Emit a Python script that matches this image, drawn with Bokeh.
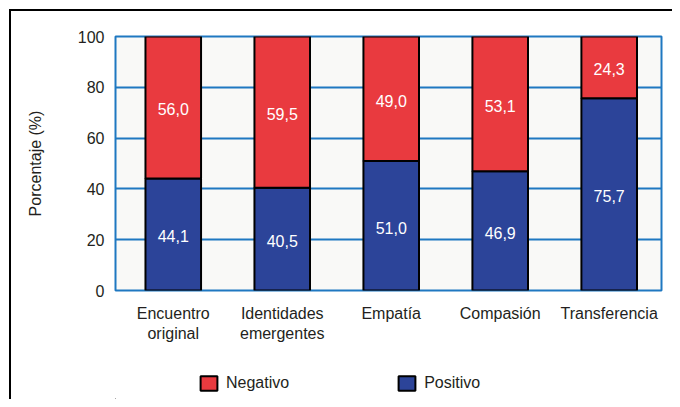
from bokeh.plotting import figure
from bokeh.layouts import column
from bokeh.models import ColumnDataSource, Range1d, FixedTicker, Legend, LegendItem, LabelSet
from bokeh.core.properties import value
from bokeh.embed import file_html
from bokeh.resources import INLINE

categories = ["Encuentro\noriginal", "Identidades\nemergentes", "Empatía", "Compasión", "Transferencia"]
positivo = [44.1, 40.5, 51.0, 46.9, 75.7]
negativo = [56.0, 59.5, 49.0, 53.1, 24.3]
y_ticks = [0, 20, 40, 60, 80, 100]
series_names = ["Negativo", "Positivo"]

RED = "#e93a3f"
BLUE = "#2c4499"
GRIDC = "#1f78c1"
TXT = "#231f20"
FONT = "Liberation Sans"

x = list(range(len(categories)))
fmt = lambda v: f"{v:.1f}".replace(".", ",")
src = ColumnDataSource(dict(
    x=x,
    pos=positivo,
    neg_top=[p_ + n for p_, n in zip(positivo, negativo)],
    pos_mid=[p_ / 2 for p_ in positivo],
    neg_mid=[p_ + n / 2 for p_, n in zip(positivo, negativo)],
    pos_lbl=[fmt(v) for v in positivo],
    neg_lbl=[fmt(v) for v in negativo],
))

p = figure(width=661, height=340, output_backend="svg", toolbar_location=None,
           x_range=Range1d(-0.53, len(categories) - 0.52), y_range=Range1d(0, 100),
           min_border_left=104, min_border_right=11, min_border_top=25, min_border_bottom=61)

p.background_fill_color = "#f9f9f7"
p.border_fill_color = "white"
p.outline_line_color = GRIDC
p.outline_line_width = 2

p.vbar(x="x", bottom=0, top="pos", width=0.51, source=src,
       fill_color=BLUE, line_color="black", line_width=2)
p.vbar(x="x", bottom="pos", top="neg_top", width=0.51, source=src,
       fill_color=RED, line_color="black", line_width=2)

for col_y, col_t in (("pos_mid", "pos_lbl"), ("neg_mid", "neg_lbl")):
    p.add_layout(LabelSet(x="x", y=col_y, text=col_t, source=src, text_color="white",
                          text_font=value(FONT), text_font_size="16px", text_align="center",
                          text_baseline="middle", y_offset=-2))

p.xgrid.grid_line_color = None
p.ygrid.grid_line_color = GRIDC
p.ygrid.grid_line_width = 2
p.ygrid.ticker = FixedTicker(ticks=y_ticks)

p.yaxis.ticker = FixedTicker(ticks=y_ticks)
p.xaxis.ticker = FixedTicker(ticks=x)
p.xaxis.major_label_overrides = {i: c for i, c in enumerate(categories)}
for ax in (p.xaxis, p.yaxis):
    ax.axis_line_color = None
    ax.major_tick_line_color = None
    ax.minor_tick_line_color = None
    ax.major_label_text_font = FONT
    ax.major_label_text_font_size = "16px"
    ax.major_label_text_color = TXT
p.yaxis.major_label_standoff = 5
p.xaxis.major_label_standoff = 8
p.yaxis.axis_label = "Porcentaje (%)"
p.yaxis.axis_label_text_font = FONT
p.yaxis.axis_label_text_font_size = "16px"
p.yaxis.axis_label_text_font_style = "normal"
p.yaxis.axis_label_text_color = TXT
p.yaxis.axis_label_standoff = 31

# legend strip
p2 = figure(width=661, height=48, output_backend="svg", toolbar_location=None,
            x_axis_type=None, y_axis_type=None, x_range=Range1d(0, 1), y_range=Range1d(0, 1),
            min_border=0)
p2.outline_line_color = None
p2.background_fill_color = "white"
p2.border_fill_color = "white"
dummy = ColumnDataSource(dict(x=[-10], top=[-10]))
l_neg = p2.vbar(x="x", bottom="top", top="top", width=0.1, source=dummy, fill_color=RED, line_color="black", line_width=2)
l_pos = p2.vbar(x="x", bottom="top", top="top", width=0.1, source=dummy, fill_color=BLUE, line_color="black", line_width=2)

legend = Legend(items=[LegendItem(label=series_names[0], renderers=[l_neg]),
                       LegendItem(label=series_names[1], renderers=[l_pos])],
                orientation="horizontal", location=(83, 7),
                spacing=107, padding=0, margin=0, glyph_width=21, glyph_height=18,
                label_standoff=7, border_line_color=None, background_fill_color=None,
                background_fill_alpha=0, label_text_font=FONT, label_text_font_size="16px",
                label_text_color=TXT)
p2.add_layout(legend, "center")

layout = column(p, p2, spacing=0)
layout.styles = {"border-left": "2px solid black", "border-top": "2px solid black",
                 "margin-left": "9px", "margin-top": "9px"}

open("out.html", "w").write(file_html(layout, INLINE))
